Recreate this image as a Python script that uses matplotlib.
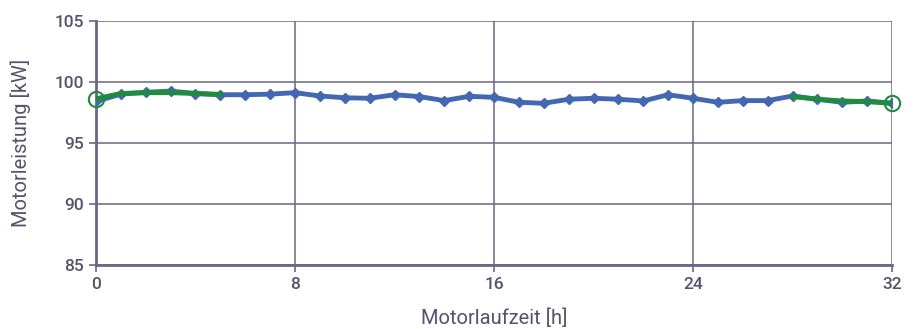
import matplotlib
matplotlib.use("Agg")
from matplotlib import pyplot as plt

hours = list(range(33))
power = [98.4, 99.0, 99.15, 99.25, 99.05, 98.95, 98.95, 99.0, 99.12,
         98.85, 98.7, 98.66, 98.95, 98.8, 98.47, 98.82, 98.74,
         98.33, 98.25, 98.58, 98.66, 98.58, 98.44, 98.95, 98.66,
         98.33, 98.47, 98.47, 98.85, 98.58, 98.33, 98.44, 98.25]

trend_start_x = [0, 1, 2, 3, 4, 5]
trend_start_y = [98.62, 99.05, 99.12, 99.12, 99.05, 98.98]
trend_end_x = [28, 29, 30, 31, 32]
trend_end_y = [98.8, 98.58, 98.44, 98.38, 98.25]

blue = "#4467B2"
green = "#1F8B3D"
grid_c = "#6A6782"
text_c = "#55536B"

plt.rcParams["font.family"] = ["Roboto", "DejaVu Sans"]
plt.rcParams["font.weight"] = "medium"

fig = plt.figure(figsize=(9.14, 3.29), dpi=100)
ax = fig.add_axes([0.105, 0.1945, 0.871, 0.742])

ax.plot(hours, power, color=blue, lw=3.5, marker="D", ms=5, zorder=3)
ax.plot(trend_start_x, trend_start_y, color=green, lw=3.5, zorder=4)
ax.plot(trend_end_x, trend_end_y, color=green, lw=3.5, zorder=4)
ax.plot([trend_start_x[0], trend_end_x[-1]], [trend_start_y[0], trend_end_y[-1]],
        ls="none", marker="o", ms=11, mfc="none", mec=green, mew=1.5, zorder=5,
        clip_on=False)

ax.set_xlim(0, 32)
ax.set_ylim(85, 105)
ax.set_xticks([0, 8, 16, 24, 32])
ax.set_yticks([85, 90, 95, 100, 105])
ax.grid(True, color=grid_c, lw=1.1)
ax.set_axisbelow(True)
for s in ["top", "right"]:
    ax.spines[s].set_visible(False)
for s in ["left", "bottom"]:
    ax.spines[s].set_color(grid_c)
    ax.spines[s].set_linewidth(2)
ax.tick_params(colors=grid_c, labelcolor=text_c, labelsize=12.5, length=5, width=1.2)

ax.set_xlabel("Motorlaufzeit [h]", fontsize=14.5, color=text_c, labelpad=12)
ax.set_ylabel("Motorleistung [kW]", fontsize=14.5, color=text_c, labelpad=17)

fig.savefig("out.png", dpi=100)
